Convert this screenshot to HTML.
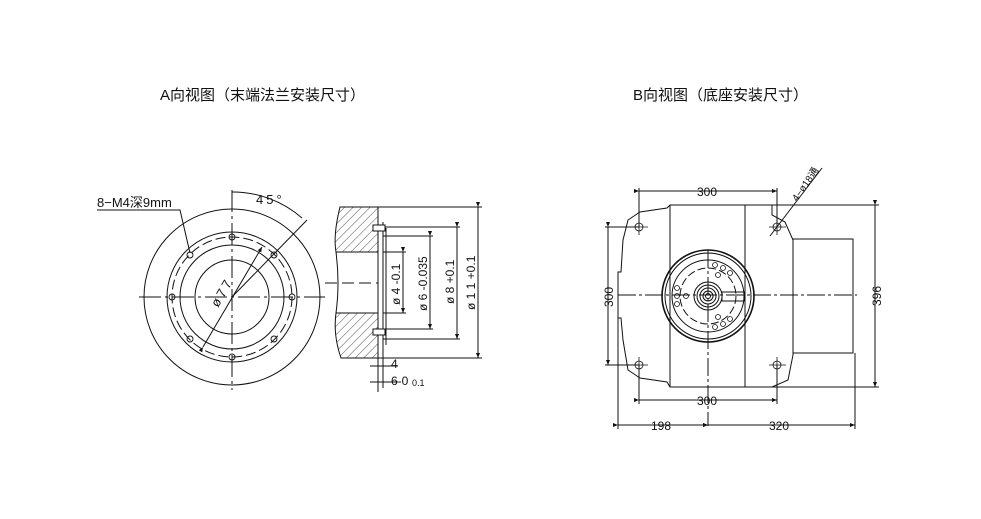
<!DOCTYPE html>
<html><head><meta charset="utf-8"><style>
html,body{margin:0;padding:0;background:#fff;}
svg{display:block;}
text{font-family:"Liberation Sans","Noto Sans CJK SC",sans-serif;fill:#111;}
</style></head><body>
<svg width="981" height="519" viewBox="0 0 981 519" xmlns="http://www.w3.org/2000/svg">
<defs>
<pattern id="h" width="6" height="6" patternUnits="userSpaceOnUse" patternTransform="rotate(45)">
<line x1="0" y1="0" x2="0" y2="6" stroke="#222" stroke-width="0.8"/>
</pattern>
<marker id="a" markerWidth="6" markerHeight="6" refX="5" refY="3" orient="auto"><path d="M0,1 L5,3 L0,5z" fill="#111"/></marker>
</defs>
<rect width="981" height="519" fill="#fff"/>
<text x="160" y="100" font-size="15">A向视图（末端法兰安装尺寸）</text>
<text x="633" y="100" font-size="15">B向视图（底座安装尺寸）</text>

<!-- Left circular view -->
<g stroke="#111" fill="none" stroke-width="1">
<circle cx="232" cy="297" r="88"/>
<circle cx="232" cy="297" r="65"/>
<circle cx="232" cy="297" r="60" stroke-dasharray="10,4"/>
<circle cx="232" cy="297" r="52"/>
<circle cx="232" cy="297" r="37"/>
<line x1="139" y1="297" x2="325" y2="297" stroke-dasharray="22,4,3,4"/>
<line x1="232" y1="190" x2="232" y2="390" stroke-dasharray="22,4,3,4"/>
<line x1="232" y1="297" x2="307" y2="220"/>
<path d="M232,192 A105,105 0 0 1 302,218"/>
<line x1="203" y1="347" x2="262" y2="247" marker-start="url(#a)" marker-end="url(#a)"/>
<polyline points="97,210 180,210 190,253"/>
<g stroke-width="0.9">
<circle cx="232" cy="237" r="3"/><circle cx="232" cy="357" r="3"/>
<circle cx="172" cy="297" r="3"/><circle cx="292" cy="297" r="3"/>
<circle cx="190" cy="255" r="3"/><circle cx="274" cy="255" r="3"/>
<circle cx="190" cy="339" r="3"/><circle cx="274" cy="339" r="3"/>
</g>
</g>
<text x="97" y="207" font-size="13">8−M4深9mm</text>
<text x="256" y="204" font-size="13" letter-spacing="3">45°</text>
<text x="0" y="0" font-size="13" transform="translate(218,308) rotate(-60)" letter-spacing="3">ø77</text>

<!-- Section view -->
<g stroke="#111" stroke-width="1">
<path d="M340,207 L378,207 L378,252 L336,252 Q333,235 340,207z" fill="url(#h)"/>
<path d="M336,313 L378,313 L378,358 L341,358 Q333,335 336,313z" fill="url(#h)"/>
<g fill="none">
<line x1="336" y1="252" x2="378" y2="252"/><line x1="336" y1="313" x2="378" y2="313"/>
<path d="M336,252 Q340,283 336,313"/>
<line x1="325" y1="283" x2="378" y2="283" stroke-dasharray="12,5"/>
<line x1="378" y1="207" x2="378" y2="358"/>
<line x1="383" y1="222" x2="383" y2="388"/>
<line x1="386" y1="228" x2="386" y2="345"/>
<line x1="378" y1="207" x2="482" y2="207"/><line x1="378" y1="358" x2="482" y2="358"/>
<line x1="478" y1="207" x2="478" y2="358" marker-start="url(#a)" marker-end="url(#a)"/>
<line x1="383" y1="252" x2="406" y2="252"/><line x1="383" y1="313" x2="406" y2="313"/>
<line x1="403" y1="252" x2="403" y2="313" marker-start="url(#a)" marker-end="url(#a)"/>
<line x1="383" y1="236" x2="433" y2="236"/><line x1="383" y1="329" x2="433" y2="329"/>
<line x1="430" y1="236" x2="430" y2="329" marker-start="url(#a)" marker-end="url(#a)"/>
<line x1="383" y1="227" x2="460" y2="227"/><line x1="383" y1="339" x2="460" y2="339"/>
<line x1="457" y1="227" x2="457" y2="339" marker-start="url(#a)" marker-end="url(#a)"/>
<line x1="370" y1="366" x2="398" y2="366"/>
<line x1="370" y1="382" x2="398" y2="382"/>
<line x1="378" y1="358" x2="378" y2="392"/>
</g>
<rect x="373" y="225" width="12" height="6" fill="#fff"/>
<rect x="373" y="329" width="12" height="6" fill="#fff"/>
</g>
<g font-size="12">
<text transform="translate(400,305) rotate(-90)">ø 4 -0.1</text>
<text transform="translate(427,311) rotate(-90)">ø 6 -0.035</text>
<text transform="translate(454,304) rotate(-90)">ø 8 +0.1</text>
<text transform="translate(475,310) rotate(-90)">ø 1 1 +0.1</text>
<text x="391" y="368">4</text>
<text x="391" y="385">6-0</text><text x="412" y="386" font-size="9">0.1</text>
</g>

<!-- Right B view -->
<g stroke="#111" fill="none" stroke-width="1">
<path d="M670,205 L772,205 L772,215 L785,222 L793,240 L793,355 L788,380 L772,387 L670,387 L667,382 L640,378 L628,370 L623,340 L621,318 L618,318 L618,272 L621,272 L623,240 L628,220 L640,212 L667,208z"/>
<line x1="670" y1="205" x2="670" y2="387"/>
<line x1="745" y1="205" x2="745" y2="387"/>
<rect x="793" y="239" width="60" height="114"/>
<circle cx="708" cy="296" r="46" stroke-width="1.6"/>
<circle cx="708" cy="296" r="43"/>
<circle cx="708" cy="296" r="36"/>
<circle cx="708" cy="296" r="28" stroke-dasharray="8,3"/>
<circle cx="708" cy="296" r="14"/><circle cx="708" cy="296" r="11"/><circle cx="708" cy="296" r="8"/><circle cx="708" cy="296" r="5"/><circle cx="708" cy="296" r="2.5"/>
<rect x="722" y="292" width="22" height="9"/>
<g stroke-width="0.8">
<circle cx="715" cy="265" r="2.5"/><circle cx="723" cy="268" r="2.5"/><circle cx="718" cy="275" r="2.5"/><circle cx="730" cy="273" r="2.5"/>
<circle cx="715" cy="327" r="2.5"/><circle cx="723" cy="324" r="2.5"/><circle cx="718" cy="317" r="2.5"/><circle cx="730" cy="319" r="2.5"/>
<circle cx="677" cy="288" r="2.5"/><circle cx="677" cy="296" r="2.5"/><circle cx="677" cy="304" r="2.5"/><circle cx="686" cy="296" r="2.5"/>
<circle cx="639" cy="227" r="4"/><circle cx="777" cy="227" r="4"/>
<circle cx="639" cy="365" r="4"/><circle cx="777" cy="365" r="4"/>
</g>
<g stroke-width="0.8">
<line x1="631" y1="227" x2="648" y2="227"/><line x1="639" y1="219" x2="639" y2="235"/>
<line x1="769" y1="227" x2="786" y2="227"/><line x1="777" y1="219" x2="777" y2="235"/>
<line x1="631" y1="365" x2="648" y2="365"/><line x1="639" y1="357" x2="639" y2="373"/>
<line x1="769" y1="365" x2="786" y2="365"/><line x1="777" y1="357" x2="777" y2="373"/>
</g>
<line x1="618" y1="295" x2="857" y2="295" stroke-dasharray="18,3,3,3"/>
<line x1="708" y1="250" x2="708" y2="426" stroke-dasharray="18,3,3,3"/>
<line x1="639" y1="188" x2="639" y2="227"/><line x1="777" y1="188" x2="777" y2="227"/>
<line x1="639" y1="191" x2="777" y2="191" marker-start="url(#a)" marker-end="url(#a)"/>
<line x1="639" y1="365" x2="639" y2="404"/><line x1="777" y1="365" x2="777" y2="404"/>
<line x1="639" y1="400" x2="777" y2="400" marker-start="url(#a)" marker-end="url(#a)"/>
<line x1="605" y1="227" x2="639" y2="227"/><line x1="605" y1="365" x2="639" y2="365"/>
<line x1="608" y1="227" x2="608" y2="365" marker-start="url(#a)" marker-end="url(#a)"/>
<line x1="772" y1="205" x2="879" y2="205"/><line x1="772" y1="387" x2="879" y2="387"/>
<line x1="875" y1="205" x2="875" y2="387" marker-start="url(#a)" marker-end="url(#a)"/>
<line x1="618" y1="295" x2="618" y2="429"/><line x1="855" y1="353" x2="855" y2="429"/>
<line x1="618" y1="425" x2="708" y2="425" marker-start="url(#a)" marker-end="url(#a)"/>
<line x1="708" y1="425" x2="855" y2="425" marker-start="url(#a)" marker-end="url(#a)"/>
<line x1="770" y1="236" x2="822" y2="168"/>
</g>
<g font-size="12">
<text x="697" y="196">300</text>
<text x="697" y="405">300</text>
<text x="651" y="430">198</text>
<text x="769" y="430">320</text>
<text transform="translate(613,307) rotate(-90)">300</text>
<text transform="translate(881,306) rotate(-90)">396</text>
<text transform="translate(797,202) rotate(-55)" font-size="10">4−ø18通</text>
</g>
</svg>
</body></html>
